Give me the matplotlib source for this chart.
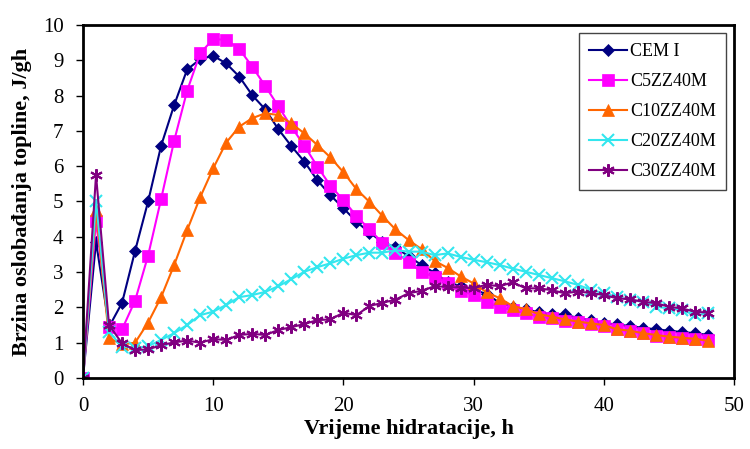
import matplotlib
matplotlib.use("Agg")
import matplotlib.pyplot as plt
import numpy as np

plt.rcParams['font.family'] = ['Liberation Serif', 'DejaVu Serif']

# hours of hydration
hours = list(range(0, 49))

cem1 = [0, 3.86, 1.45, 2.13, 3.6, 5.0, 6.58, 7.73, 8.74, 9.03, 9.13, 8.91, 8.54, 8.01, 7.61, 7.05,
        6.57, 6.13, 5.6, 5.18, 4.81, 4.43, 4.12, 3.85, 3.7, 3.45, 3.2, 2.98, 2.72, 2.6, 2.5, 2.38,
        2.13, 2.02, 1.95, 1.86, 1.8, 1.8, 1.7, 1.64, 1.55, 1.52, 1.47, 1.42, 1.38, 1.34, 1.3, 1.27, 1.22]
c5 = [0, 4.45, 1.45, 1.38, 2.19, 3.47, 5.07, 6.72, 8.14, 9.2, 9.6, 9.58, 9.32, 8.82, 8.27, 7.7,
      7.12, 6.58, 5.99, 5.45, 5.04, 4.59, 4.21, 3.83, 3.55, 3.3, 2.99, 2.87, 2.68, 2.47, 2.35, 2.16,
      2.0, 1.93, 1.83, 1.74, 1.69, 1.61, 1.6, 1.53, 1.47, 1.38, 1.32, 1.27, 1.2, 1.17, 1.12, 1.1, 1.07]
c10 = [0, 4.75, 1.13, 0.95, 1.0, 1.57, 2.29, 3.2, 4.19, 5.12, 5.94, 6.67, 7.12, 7.36, 7.5, 7.45,
       7.21, 6.93, 6.6, 6.25, 5.83, 5.35, 4.99, 4.59, 4.21, 3.91, 3.65, 3.32, 3.12, 2.88, 2.68, 2.43,
       2.26, 2.04, 1.95, 1.81, 1.74, 1.66, 1.6, 1.55, 1.5, 1.38, 1.34, 1.27, 1.22, 1.17, 1.14, 1.11, 1.05]
c20 = [0, 5.02, 1.3, 0.89, 0.85, 0.9, 1.08, 1.27, 1.5, 1.78, 1.88, 2.07, 2.29, 2.35, 2.44, 2.6,
       2.8, 3.01, 3.14, 3.25, 3.38, 3.48, 3.55, 3.55, 3.62, 3.58, 3.58, 3.48, 3.53, 3.43, 3.35, 3.28,
       3.2, 3.1, 3.01, 2.92, 2.83, 2.74, 2.64, 2.5, 2.4, 2.3, 2.21, 2.16, 2.02, 1.97, 1.93, 1.78, 1.83]
c30 = [0, 5.75, 1.5, 0.98, 0.79, 0.81, 0.93, 1.01, 1.06, 1.0, 1.1, 1.08, 1.22, 1.25, 1.22, 1.36,
       1.44, 1.53, 1.64, 1.66, 1.85, 1.78, 2.04, 2.13, 2.22, 2.4, 2.47, 2.6, 2.58, 2.56, 2.55, 2.64,
       2.6, 2.71, 2.54, 2.54, 2.49, 2.4, 2.45, 2.41, 2.35, 2.26, 2.23, 2.16, 2.12, 2.02, 1.97, 1.88, 1.85]

labels = ['CEM I', 'C5ZZ40M', 'C10ZZ40M', 'C20ZZ40M', 'C30ZZ40M']
colors = ['#000080', '#FF00FF', '#FF6600', '#33E6EE', '#800080']
markers = ['D', 's', '^', 'x', (6, 2, 0)]
msizes = [6, 8, 8, 8, 9]

fig = plt.figure(figsize=(7.5, 4.49), dpi=100)
ax = fig.add_axes([83/750, 1 - 378/449, (734-83)/750, (378-25)/449])

for ys, lab, c, m, ms in zip([cem1, c5, c10, c20, c30], labels, colors, markers, msizes):
    ax.plot(hours, ys, color=c, marker=m, markersize=ms, lw=1.5, label=lab,
            markeredgewidth=1.5 if m in ('x',) or isinstance(m, tuple) else 0.5,
            markeredgecolor=c)

ax.set_xlim(0, 50)
ax.set_ylim(0, 10)
ax.set_xticks(range(0, 51, 10))
ax.set_yticks(range(0, 11))
ax.tick_params(labelsize=15, length=5, width=1, direction='out', pad=9)
for s in ax.spines.values():
    s.set_linewidth(2)

ax.set_xlabel('Vrijeme hidratacije, h', fontsize=16, fontweight='bold', labelpad=2)
ax.set_ylabel('Brzina oslobađanja topline, J/gh', fontsize=16, fontweight='bold', labelpad=8)

leg = ax.legend(loc='upper right', bbox_to_anchor=(726/750, 1 - 33/449), bbox_transform=fig.transFigure,
                fontsize=13, fancybox=False, framealpha=1, edgecolor='#444444',
                handlelength=2.1, labelspacing=0.72, borderpad=0.55, handletextpad=0.2,
                borderaxespad=0)
leg.get_frame().set_linewidth(1)

fig.savefig('out.png', dpi=100)
